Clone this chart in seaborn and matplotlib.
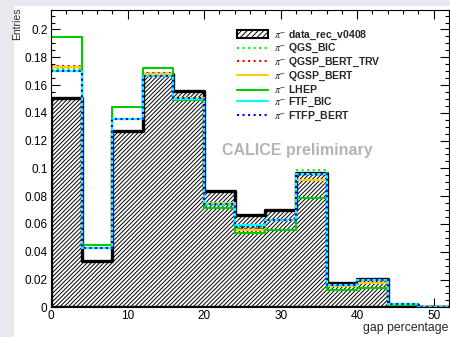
import numpy as np
import pandas as pd
import matplotlib
matplotlib.use("Agg")
import matplotlib.pyplot as plt
import seaborn as sns
from matplotlib.patches import Patch, Rectangle
from matplotlib.lines import Line2D
from matplotlib.ticker import MultipleLocator, FuncFormatter

# ---------------- data ----------------
bin_edges = [0, 4, 8, 12, 16, 20, 24, 28, 32, 36, 40, 44, 48, 52]
data_rec = [0.151, 0.033, 0.127, 0.168, 0.156, 0.084, 0.0665, 0.070, 0.097, 0.0175, 0.0205, 0.0015, 0.0003]
qgs_bic = [0.1718, 0.0425, 0.1356, 0.1665, 0.151, 0.0735, 0.057, 0.063, 0.0985, 0.016, 0.0200, 0.0024, 0.0005]
qgsp_bert_trv = [0.1738, 0.0425, 0.1356, 0.1690, 0.151, 0.0750, 0.0565, 0.063, 0.0960, 0.016, 0.0195, 0.0024, 0.0005]
qgsp_bert = [0.1728, 0.0425, 0.1356, 0.1680, 0.151, 0.0750, 0.0560, 0.063, 0.0917, 0.0155, 0.0177, 0.0024, 0.0005]
lhep = [0.1948, 0.0450, 0.1440, 0.1720, 0.149, 0.0713, 0.0532, 0.0557, 0.0785, 0.0125, 0.0141, 0.0020, 0.0005]
ftf_bic = [0.1698, 0.0425, 0.1356, 0.1665, 0.150, 0.0740, 0.0590, 0.063, 0.0960, 0.016, 0.0200, 0.0024, 0.0005]
ftfp_bert = [0.1700, 0.0425, 0.1356, 0.1665, 0.151, 0.0745, 0.0580, 0.063, 0.0960, 0.016, 0.0200, 0.0024, 0.0005]

labels = ["data_rec_v0408", "QGS_BIC", "QGSP_BERT_TRV", "QGSP_BERT", "LHEP", "FTF_BIC", "FTFP_BERT"]
colors = ["black", "#00ff00", "#ff0000", "#ffcc00", "#00cc00", "#00ffff", "#0000ff"]
styles = ["-", ":", ":", "-", "-", "-", ":"]

x_ticks = [0, 10, 20, 30, 40, 50]
y_ticks = [0, 0.02, 0.04, 0.06, 0.08, 0.1, 0.12, 0.14, 0.16, 0.18, 0.2]

# ---------------- style ----------------
sns.set_style("ticks")
plt.rcParams["font.family"] = ["Liberation Sans", "DejaVu Sans"]
plt.rcParams["mathtext.fontset"] = "stix"
plt.rcParams["hatch.linewidth"] = 0.7
plt.rcParams["hatch.color"] = "black"

fig = plt.figure(figsize=(4.5, 3.37), dpi=100, facecolor="white")
# grey canvas border strips (left and top)
fig.patches.append(Rectangle((0, 0), 14 / 450, 1, transform=fig.transFigure,
                             facecolor="#e8e8f0", edgecolor="none", zorder=0))
fig.patches.append(Rectangle((0, 1 - 6 / 337), 1, 6 / 337, transform=fig.transFigure,
                             facecolor="#e8e8f0", edgecolor="none", zorder=0))

ax = fig.add_axes([51 / 450, 1 - 307.3 / 337, 398 / 450, 297.3 / 337])
ax.set_facecolor("white")

centers = [(a + b) / 2 for a, b in zip(bin_edges[:-1], bin_edges[1:])]

# data histogram (hatched)
df_data = pd.DataFrame({"gap": centers, "w": data_rec})
sns.histplot(data=df_data, x="gap", weights="w", bins=bin_edges, element="step", fill=True,
             facecolor="white", edgecolor="black", hatch="////////", linewidth=2.4,
             alpha=1, ax=ax)

mc_sets = [qgs_bic, qgsp_bert_trv, qgsp_bert, lhep, ftf_bic, ftfp_bert]
for vals, c, ls in zip(mc_sets, colors[1:], styles[1:]):
    df_mc = pd.DataFrame({"gap": centers, "w": vals})
    sns.histplot(data=df_mc, x="gap", weights="w", bins=bin_edges, element="step", fill=False,
                 color=c, linestyle=ls, linewidth=1.5, ax=ax)

ax.set_xlim(0, 52)
ax.set_ylim(0, 0.214)
ax.set_xlabel("")
ax.set_ylabel("")
ax.set_xticks(x_ticks)
ax.set_yticks(y_ticks)
ax.xaxis.set_minor_locator(MultipleLocator(2))
ax.yaxis.set_minor_locator(MultipleLocator(0.005))
ax.yaxis.set_major_formatter(FuncFormatter(lambda v, p: "%g" % round(v, 3)))
ax.tick_params(which="both", direction="in", top=True, right=True, colors="black",
               labelsize=8.5, width=0.8)
ax.tick_params(which="major", length=6.5)
ax.tick_params(which="minor", length=3)
ax.tick_params(axis="x", pad=2)
ax.tick_params(axis="y", pad=2.5)
for sp in ax.spines.values():
    sp.set_visible(True)
    sp.set_color("black")
    sp.set_linewidth(0.8)

# legend
handles = [Patch(facecolor="white", edgecolor="black", hatch="//////", linewidth=1.5)]
for c, ls in zip(colors[1:], styles[1:]):
    handles.append(Line2D([], [], color=c, linestyle=ls, linewidth=1.5))
leg_labels = [r"$\pi^{-}$ " + l for l in labels]
leg = fig.legend(handles, leg_labels, loc="upper left",
                 bbox_to_anchor=(237 / 450, 1 - 28.5 / 337), frameon=False,
                 prop={"weight": "bold", "size": 7.5}, handlelength=3.0,
                 handletextpad=0.6, labelspacing=0.05, borderpad=0, borderaxespad=0,
                 handleheight=0.7)

fig.text(297 / 450, 1 - 151 / 337, "CALICE preliminary", ha="center", va="center",
         fontsize=11.5, fontweight="bold", color="#b4b4b4")
fig.text(17.5 / 450, 1 - 8 / 337, "Entries", rotation=90, ha="center", va="top",
         fontsize=7.5)
fig.text(448 / 450, 1 - 328.5 / 337, "gap percentage", ha="right", va="center",
         fontsize=8.8)

fig.savefig("out.png", dpi=100, facecolor="white")
